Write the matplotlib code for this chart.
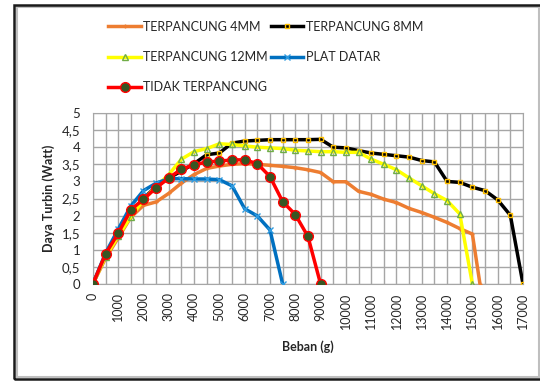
import numpy as np
import matplotlib.pyplot as plt
from matplotlib.patches import Rectangle
from matplotlib.ticker import MultipleLocator, FuncFormatter

plt.rcParams['font.family'] = ['Lato', 'DejaVu Sans']

# beban (g) dan daya turbin (Watt) tiap variasi sudu
beban_4mm = [0, 500, 1000, 1500, 2000, 2500, 3000, 3500, 4000, 4500, 5000, 5500, 6000, 6500, 7000,
             7500, 8000, 8500, 9000, 9500, 10000, 10500, 11000, 11500, 12000, 12500, 13000, 13500,
             14000, 14500, 15000, 15300]
daya_4mm = [0, 0.75, 1.35, 1.95, 2.3, 2.4, 2.65, 2.95, 3.2, 3.38, 3.45, 3.5, 3.52, 3.5, 3.47,
            3.44, 3.4, 3.34, 3.26, 2.99, 2.99, 2.71, 2.62, 2.48, 2.38, 2.21, 2.09, 1.95,
            1.8, 1.62, 1.46, 0]

beban_8mm = [0, 500, 1000, 1500, 2000, 2500, 3000, 3500, 4000, 4500, 5000, 5500, 6000, 6500, 7000,
             7500, 8000, 8500, 9000, 9500, 10000, 10500, 11000, 11500, 12000, 12500, 13000, 13500,
             14000, 14500, 15000, 15500, 16000, 16500, 17000]
daya_8mm = [0, 0.85, 1.45, 2.05, 2.5, 2.85, 3.1, 3.3, 3.52, 3.78, 3.83, 4.12, 4.18, 4.2, 4.22,
            4.22, 4.22, 4.22, 4.23, 4.0, 3.98, 3.9, 3.83, 3.79, 3.75, 3.71, 3.61, 3.57,
            3.0, 2.97, 2.83, 2.73, 2.46, 2.01, 0]

beban_12mm = [0, 500, 1000, 1500, 2000, 2500, 3000, 3500, 4000, 4500, 5000, 5500, 6000, 6500, 7000,
              7500, 8000, 8500, 9000, 9500, 10000, 10500, 11000, 11500, 12000, 12500, 13000, 13500,
              14000, 14500, 15000]
daya_12mm = [0, 0.8, 1.4, 1.97, 2.45, 2.85, 3.2, 3.65, 3.87, 3.96, 4.1, 4.08, 4.04, 4.0, 3.98,
             3.96, 3.91, 3.89, 3.87, 3.87, 3.85, 3.85, 3.65, 3.5, 3.34, 3.1, 2.87, 2.64,
             2.44, 2.05, 0]

beban_plat = [0, 500, 1000, 1500, 2000, 2500, 3000, 3500, 4000, 4500, 5000, 5500, 6000, 6500, 7000, 7500]
daya_plat = [0, 0.9, 1.6, 2.28, 2.73, 2.95, 3.08, 3.08, 3.07, 3.07, 3.05, 2.87, 2.2, 1.99, 1.58, 0]

beban_tidak = [0, 500, 1000, 1500, 2000, 2500, 3000, 3500, 4000, 4500, 5000, 5500, 6000, 6500, 7000,
               7500, 8000, 8500, 9000]
daya_tidak = [0, 0.88, 1.48, 2.17, 2.48, 2.81, 3.1, 3.36, 3.48, 3.57, 3.59, 3.63, 3.63, 3.52, 3.14,
              2.41, 2.03, 1.39, 0]

fig = plt.figure(figsize=(5.4, 3.81), dpi=100)
ax = fig.add_axes([0.172, 0.2546, 0.7965, 0.4488])

lw = 2.5
l4, = ax.plot(beban_4mm, daya_4mm, color='#ED7D31', lw=lw, marker='+', ms=3, mew=1,
              label='TERPANCUNG 4MM', zorder=3)
l12, = ax.plot(beban_12mm, daya_12mm, color='#FFFF00', lw=lw, marker='^', ms=4.5,
               mfc='none', mec='#70AD47', mew=1, label='TERPANCUNG 12MM', zorder=4)
l8, = ax.plot(beban_8mm, daya_8mm, color='black', lw=lw, marker='s', ms=3.5,
              mfc='none', mec='#FFC000', mew=1, label='TERPANCUNG 8MM', zorder=3)
lp, = ax.plot(beban_plat, daya_plat, color='#0070C0', lw=lw, marker='x', ms=5, mew=1,
              mec='#2E9BE0', label='PLAT DATAR', zorder=5)
lt, = ax.plot(beban_tidak, daya_tidak, color='#FF0000', lw=lw, marker='o', ms=7,
              mfc='#375623', mec='#FF0000', mew=1, label='TIDAK TERPANCUNG', zorder=6)

ax.set_xlim(0, 17000)
ax.set_ylim(0, 5)
ax.xaxis.set_major_locator(MultipleLocator(1000))
ax.xaxis.set_minor_locator(MultipleLocator(500))
ax.yaxis.set_major_locator(MultipleLocator(0.5))
ax.yaxis.set_major_formatter(FuncFormatter(lambda v, p: ('%g' % v).replace('.', ',')))
ax.grid(True, which='both', color='#A6A6A6', lw=1)
ax.set_axisbelow(True)
for s in ax.spines.values():
    s.set_color('#A6A6A6')
ax.tick_params(which='both', length=0, labelsize=9.5, colors='#262626')
ax.tick_params(axis='x', rotation=90, pad=6, labelsize=9)
ax.tick_params(axis='y', pad=9)

ax.set_xlabel('Beban (g)', fontsize=9, fontweight='bold', color='#262626', labelpad=8)
ax.set_ylabel('Daya Turbin (Watt)', fontsize=9, fontweight='bold', color='#262626', labelpad=5)

fig.legend(handles=[l4, l12, lt, l8, lp], ncol=2, loc='upper left',
           bbox_to_anchor=(0.18, 0.975), frameon=False, fontsize=9,
           handlelength=2.6, handletextpad=0.2, columnspacing=0.2, labelspacing=1.45,
           labelcolor='#262626')

# bingkai luar
fig.patches.append(Rectangle((17 / 540, 4 / 381), 522 / 540, 370 / 381, transform=fig.transFigure,
                             fill=False, ec='#BFBFBF', lw=1.5))
fig.patches.append(Rectangle((14 / 540, 2 / 381), 540 / 540, 374 / 381, transform=fig.transFigure,
                             fill=False, ec='#1a1a1a', lw=1.8))

fig.savefig('out.png', dpi=100)
